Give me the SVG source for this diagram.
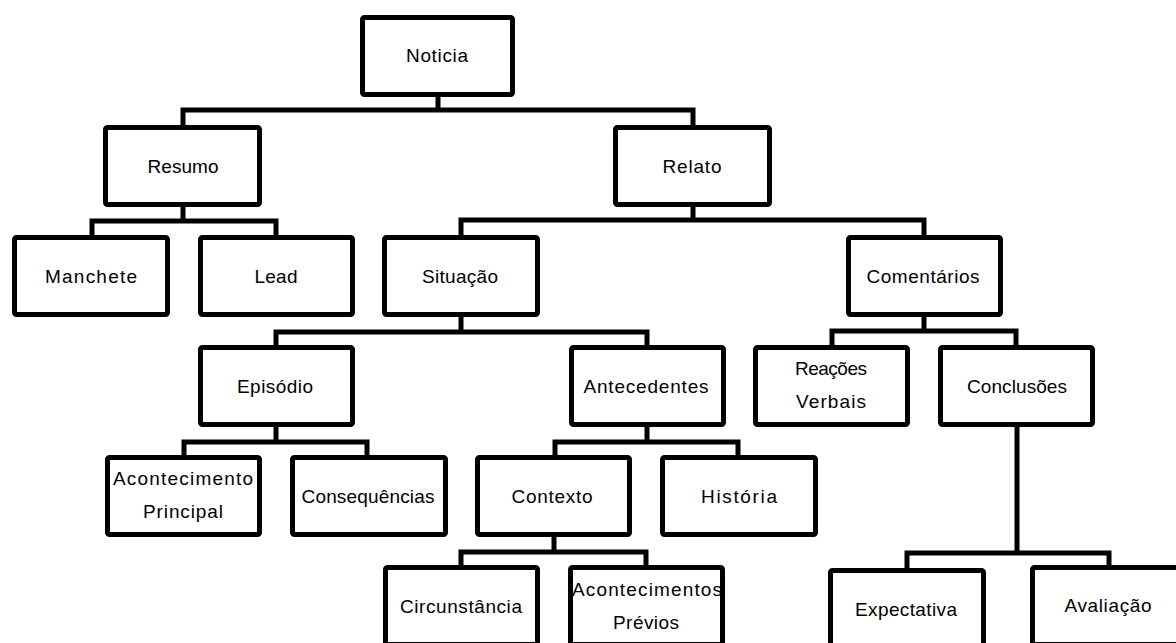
<svg xmlns="http://www.w3.org/2000/svg" width="1176" height="643" viewBox="0 0 1176 643">
<style>
.box rect{fill:#fff;stroke:#000;stroke-width:5;rx:2;ry:2}
text{font-family:"Liberation Sans",Arial,sans-serif;font-size:19px;fill:#000;text-anchor:middle}
#connectors path{fill:none;stroke:#000;stroke-width:5;stroke-linejoin:miter}
</style>
<rect width="1176" height="643" fill="#fff"/>
<g id="connectors">
<path d="M438,97V110M183,125V110H693V125"/>
<path d="M183,207V221M92,235V221H276V235"/>
<path d="M693,207V220M461,235V220H924V235"/>
<path d="M461,317V332M276,345V332H647V345"/>
<path d="M924,317V331M832,345V331H1016V345"/>
<path d="M276,427V442M184,455V442H367V455"/>
<path d="M647,427V442M555,455V442H738V455"/>
<path d="M554,537V552M461,565V552H646V565"/>
<path d="M1017,427V553M907,568V553H1109V565"/>
</g>
<g id="noticia" class="box"><rect x="362.5" y="17.5" width="150" height="77"/><text x="437" y="62" textLength="62" lengthAdjust="spacing">Noticia</text></g>
<g id="resumo" class="box"><rect x="105.5" y="127.5" width="154" height="77"/><text x="183" y="173" textLength="71" lengthAdjust="spacing">Resumo</text></g>
<g id="relato" class="box"><rect x="615.5" y="127.5" width="154" height="77"/><text x="692" y="173" textLength="59" lengthAdjust="spacing">Relato</text></g>
<g id="manchete" class="box"><rect x="14.5" y="237.5" width="153" height="77"/><text x="91" y="283" textLength="92" lengthAdjust="spacing">Manchete</text></g>
<g id="lead" class="box"><rect x="200.5" y="237.5" width="152" height="77"/><text x="276" y="283" textLength="43" lengthAdjust="spacing">Lead</text></g>
<g id="situacao" class="box"><rect x="384.5" y="237.5" width="153" height="77"/><text x="460" y="283" textLength="76" lengthAdjust="spacing">Situação</text></g>
<g id="comentarios" class="box"><rect x="848.5" y="237.5" width="152" height="77"/><text x="923" y="283" textLength="113" lengthAdjust="spacing">Comentários</text></g>
<g id="episodio" class="box"><rect x="200.5" y="347.5" width="152" height="77"/><text x="275" y="393" textLength="76" lengthAdjust="spacing">Episódio</text></g>
<g id="antecedentes" class="box"><rect x="571.5" y="347.5" width="152" height="77"/><text x="646" y="393" textLength="125" lengthAdjust="spacing">Antecedentes</text></g>
<g id="reacoes" class="box"><rect x="755.5" y="347.5" width="152" height="77"/><text x="831" y="375" textLength="72" lengthAdjust="spacing">Reações</text><text x="831" y="408" textLength="70" lengthAdjust="spacing">Verbais</text></g>
<g id="conclusoes" class="box"><rect x="940.5" y="347.5" width="152" height="77"/><text x="1017" y="393" textLength="100" lengthAdjust="spacing">Conclusões</text></g>
<g id="acontecimento-principal" class="box"><rect x="107.5" y="457.5" width="152" height="77"/><text x="183" y="485" textLength="140" lengthAdjust="spacing">Acontecimento</text><text x="183" y="518" textLength="80" lengthAdjust="spacing">Principal</text></g>
<g id="consequencias" class="box"><rect x="292.5" y="457.5" width="153" height="77"/><text x="368" y="503" textLength="133" lengthAdjust="spacing">Consequências</text></g>
<g id="contexto" class="box"><rect x="477.5" y="457.5" width="152" height="77"/><text x="552" y="503" textLength="81" lengthAdjust="spacing">Contexto</text></g>
<g id="historia" class="box"><rect x="662.5" y="457.5" width="153" height="77"/><text x="739" y="503" textLength="76" lengthAdjust="spacing">História</text></g>
<g id="circunstancia" class="box"><rect x="385.5" y="567.5" width="152" height="77"/><text x="461" y="613" textLength="122" lengthAdjust="spacing">Circunstância</text></g>
<g id="acontecimentos-previos" class="box"><rect x="570.5" y="567.5" width="152" height="77"/><text x="647" y="596" textLength="150" lengthAdjust="spacing">Acontecimentos</text><text x="646" y="629" textLength="66" lengthAdjust="spacing">Prévios</text></g>
<g id="expectativa" class="box"><rect x="830.5" y="570.5" width="153" height="77"/><text x="906" y="616" textLength="102" lengthAdjust="spacing">Expectativa</text></g>
<g id="avaliacao" class="box"><rect x="1032.5" y="567.5" width="153" height="77"/><text x="1108" y="612" textLength="87" lengthAdjust="spacing">Avaliação</text></g>
</svg>
